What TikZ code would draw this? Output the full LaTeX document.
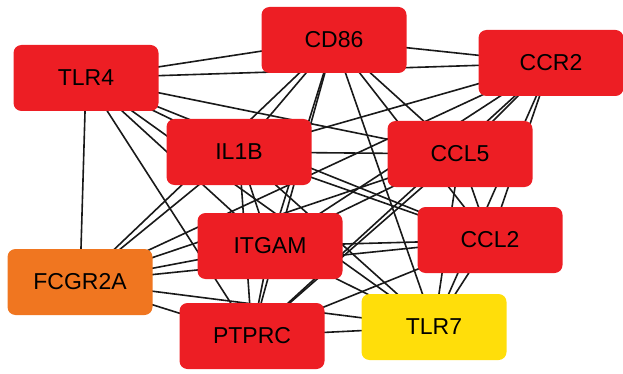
\documentclass[tikz,border=0pt]{standalone}
\usepackage{fontspec}
\setsansfont{Liberation Sans}
\usepackage{tikz}
\usetikzlibrary{backgrounds}
\definecolor{hubred}{RGB}{237,30,36}
\definecolor{huborange}{RGB}{240,118,32}
\definecolor{hubyellow}{RGB}{255,222,10}
\tikzset{every node/.style={rectangle,rounded corners=8pt,minimum width=145pt,minimum height=66pt,inner sep=0pt,font=\sffamily\fontsize{23}{23}\selectfont}}
\tikzset{link/.style={line width=1.6pt,black!90}}
\tikzset{rd/.style={fill=hubred}}
\tikzset{og/.style={fill=huborange}}
\tikzset{yl/.style={fill=hubyellow}}

\begin{document}
\begin{tikzpicture}[x=1pt,y=-1pt]
\useasboundingbox (0,0) rectangle (623,374);
\node[rd] (TLR4) at (86,78) {TLR4};
\node[rd] (CD86) at (334,40) {CD86};
\node[rd] (CCR2) at (551,63) {CCR2};
\node[rd] (IL1B) at (239,152) {IL1B};
\node[rd] (CCL5) at (460,154) {CCL5};
\node[rd] (ITGAM) at (270,246) {ITGAM};
\node[rd] (CCL2) at (490,240) {CCL2};
\node[og] (FCGR2A) at (80,282) {FCGR2A};
\node[rd] (PTPRC) at (252,336) {PTPRC};
\node[yl] (TLR7) at (434,327) {TLR7};
\begin{pgfonlayer}{background}
% every pair of genes is linked
\foreach \a/\b in {TLR4/CD86,TLR4/CCR2,TLR4/IL1B,TLR4/CCL5,TLR4/ITGAM,TLR4/CCL2,TLR4/FCGR2A,TLR4/PTPRC,TLR4/TLR7,
  CD86/CCR2,CD86/IL1B,CD86/CCL5,CD86/ITGAM,CD86/CCL2,CD86/FCGR2A,CD86/PTPRC,CD86/TLR7,
  CCR2/IL1B,CCR2/CCL5,CCR2/ITGAM,CCR2/CCL2,CCR2/FCGR2A,CCR2/PTPRC,CCR2/TLR7,
  IL1B/CCL5,IL1B/ITGAM,IL1B/CCL2,IL1B/FCGR2A,IL1B/PTPRC,IL1B/TLR7,
  CCL5/ITGAM,CCL5/CCL2,CCL5/FCGR2A,CCL5/PTPRC,CCL5/TLR7,
  ITGAM/CCL2,ITGAM/FCGR2A,ITGAM/PTPRC,ITGAM/TLR7,
  CCL2/FCGR2A,CCL2/PTPRC,CCL2/TLR7,
  FCGR2A/PTPRC,FCGR2A/TLR7,
  PTPRC/TLR7}
  \draw[link] (\a.center) -- (\b.center);
\end{pgfonlayer}
\end{tikzpicture}
\end{document}
